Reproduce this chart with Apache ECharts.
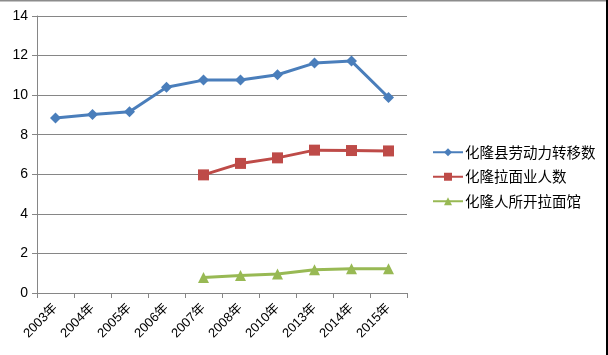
<!DOCTYPE html>
<html><head><meta charset="utf-8">
<script src="https://cdn.jsdelivr.net/npm/echarts@6/dist/echarts.min.js"></script>
<style>html,body{margin:0;padding:0;background:#fff}#c{width:608px;height:355px}</style>
</head><body><div id="c"></div>
<script>
const categories = ['2003年','2004年','2005年','2006年','2007年','2008年','2010年','2013年','2014年','2015年'];
const seriesNames = ['化隆县劳动力转移数','化隆拉面业人数','化隆人所开拉面馆'];
const laborTransfer = [8.84, 9.02, 9.16, 10.4, 10.76, 10.76, 11.03, 11.62, 11.72, 9.88];
const noodleWorkers = [null, null, null, null, 5.97, 6.55, 6.83, 7.22, 7.2, 7.18];
const noodleShops = [null, null, null, null, 0.78, 0.88, 0.96, 1.17, 1.22, 1.22];
const yTicks = {min: 0, max: 14, interval: 2};

const chart = echarts.init(document.getElementById('c'), null, {renderer: 'canvas'});
const font = '"Liberation Sans", "Noto Sans CJK SC", sans-serif';
chart.setOption({
  backgroundColor: '#fff',
  animation: false,
  textStyle: {fontFamily: font},
  grid: {left: 37, right: 201, top: 16, bottom: 62, containLabel: false},
  legend: {
    orient: 'vertical', left: 427, top: 140, itemGap: 10,
    itemWidth: 30, itemHeight: 10,
    textStyle: {fontSize: 14.5, color: '#000', fontFamily: '"Noto Sans CJK SC", sans-serif', padding: [0, 0, 0, -3]},
    data: seriesNames
  },
  xAxis: {
    type: 'category', data: categories, boundaryGap: true,
    axisLine: {lineStyle: {color: '#868686', width: 1}},
    axisTick: {show: true, alignWithLabel: false, length: 5, lineStyle: {color: '#868686'}},
    axisLabel: {rotate: 45, fontSize: 13, color: '#000', margin: 13, interval: 0, fontFamily: font}
  },
  yAxis: {
    type: 'value', min: yTicks.min, max: yTicks.max, interval: yTicks.interval,
    axisLine: {show: true, lineStyle: {color: '#868686'}},
    axisTick: {show: true, length: 5, lineStyle: {color: '#868686'}},
    axisLabel: {fontSize: 14, color: '#000', margin: 9, fontFamily: font},
    splitLine: {lineStyle: {color: '#868686', width: 1}}
  },
  series: [
    {name: seriesNames[0], type: 'line', data: laborTransfer, symbol: 'diamond', symbolSize: 11,
     lineStyle: {color: '#4a7ebb', width: 3}, itemStyle: {color: '#4a7ebb'}},
    {name: seriesNames[1], type: 'line', data: noodleWorkers, symbol: 'rect', symbolSize: 11,
     lineStyle: {color: '#be4b48', width: 3}, itemStyle: {color: '#be4b48'}},
    {name: seriesNames[2], type: 'line', data: noodleShops, symbol: 'triangle', symbolSize: 11,
     lineStyle: {color: '#98b954', width: 3}, itemStyle: {color: '#98b954'}}
  ],
  graphic: [
    {type: 'rect', shape: {x: 0, y: 0, width: 608, height: 1.5}, style: {fill: '#8c8c8c'}, silent: true},
    {type: 'rect', shape: {x: 606, y: 0, width: 2, height: 355}, style: {fill: '#000'}, silent: true}
  ]
});
</script></body></html>
